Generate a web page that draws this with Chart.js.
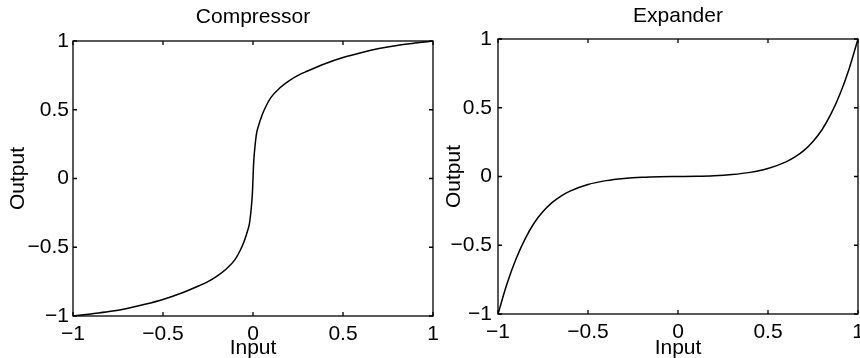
<!DOCTYPE html>
<html>
<head>
<meta charset="utf-8">
<script src="https://cdn.jsdelivr.net/npm/chart.js@4/dist/chart.umd.min.js"></script>
<style>
  html, body { margin: 0; padding: 0; background: #fff; overflow: hidden; }
  body { width: 860px; height: 358px; position: relative; }
  .box { position: absolute; top: 0; height: 364px; }
  #left { left: 0; width: 445px; }
  #right { left: 420px; width: 450px; }
</style>
</head>
<body>
<div class="box" id="left"><canvas id="comp"></canvas></div>
<div class="box" id="right"><canvas id="exp"></canvas></div>
<script>
// values
const compX = [-1, -0.9, -0.8, -0.7, -0.6, -0.5, -0.4, -0.3, -0.25, -0.2, -0.15, -0.1, -0.07, -0.05, -0.03, -0.02, -0.01, -0.005, -0.002,
  0, 0.002, 0.005, 0.01, 0.02, 0.03, 0.05, 0.07, 0.1, 0.15, 0.2, 0.25, 0.3, 0.4, 0.5, 0.6, 0.7, 0.8, 0.9, 1];
const compY = [-1, -0.985, -0.968, -0.945, -0.915, -0.88, -0.835, -0.78, -0.75, -0.71, -0.66, -0.59, -0.52, -0.46, -0.38, -0.33, -0.22, -0.14, -0.07,
  0, 0.07, 0.14, 0.22, 0.33, 0.38, 0.46, 0.52, 0.59, 0.66, 0.71, 0.75, 0.78, 0.835, 0.88, 0.915, 0.945, 0.968, 0.985, 1];

const expX = [-1, -0.95, -0.9, -0.85, -0.8, -0.75, -0.7, -0.65, -0.6, -0.5, -0.4, -0.3, -0.2, -0.1,
  0, 0.1, 0.2, 0.3, 0.4, 0.5, 0.6, 0.65, 0.7, 0.75, 0.8, 0.85, 0.9, 0.95, 1];
const expY = [-1, -0.78, -0.6, -0.455, -0.34, -0.255, -0.19, -0.142, -0.106, -0.058, -0.03, -0.014, -0.005, -0.001,
  0, 0.001, 0.005, 0.014, 0.03, 0.058, 0.106, 0.142, 0.19, 0.255, 0.34, 0.455, 0.6, 0.78, 1];

const tickValues = [-1, -0.5, 0, 0.5, 1];
const tickLabels = ['\u22121', '\u22120.5', '0', '0.5', '1'];

const FONT = 'Liberation Sans, Arial, Helvetica, sans-serif';

// black frame with inward ticks on all four sides
const framePlugin = {
  id: 'frame',
  afterDraw(chart) {
    const ctx = chart.ctx;
    const a = chart.chartArea;
    const xs = chart.scales.x, ys = chart.scales.y;
    ctx.save();
    ctx.strokeStyle = '#000';
    ctx.lineWidth = 1.3;
    ctx.strokeRect(a.left, a.top, a.right - a.left, a.bottom - a.top);
    ctx.beginPath();
    xs.ticks.forEach(t => {
      const px = xs.getPixelForValue(t.value);
      ctx.moveTo(px, a.bottom); ctx.lineTo(px, a.bottom - 4);
      ctx.moveTo(px, a.top); ctx.lineTo(px, a.top + 4);
    });
    ys.ticks.forEach(t => {
      const py = ys.getPixelForValue(t.value);
      ctx.moveTo(a.left, py); ctx.lineTo(a.left + 4, py);
      ctx.moveTo(a.right, py); ctx.lineTo(a.right - 4, py);
    });
    ctx.stroke();
    ctx.restore();
  }
};

function makeChart(id, title, xs, ys, s) {
  const points = xs.map((x, i) => ({ x: x, y: ys[i] }));
  const label = v => tickLabels[tickValues.indexOf(v)];
  return new Chart(document.getElementById(id), {
    type: 'line',
    data: {
      datasets: [{
        data: points,
        borderColor: '#000',
        borderWidth: 1.5,
        pointRadius: 0,
        cubicInterpolationMode: 'monotone',
        fill: false
      }]
    },
    options: {
      responsive: true,
      maintainAspectRatio: false,
      animation: false,
      devicePixelRatio: 1,
      layout: { padding: { left: 0, right: s.padRight, top: 0, bottom: 0 } },
      plugins: {
        legend: { display: false },
        tooltip: { enabled: false },
        title: {
          display: true,
          text: title,
          fullSize: false,
          color: '#000',
          font: { family: FONT, size: 21, weight: 'normal' },
          padding: { top: s.titleTop, bottom: s.titleBottom }
        }
      },
      scales: {
        x: {
          type: 'linear',
          min: -1, max: 1,
          afterBuildTicks: sc => { sc.ticks = tickValues.map(v => ({ value: v })); },
          afterFit: sc => { sc.height = s.xHeight; },
          grid: { display: false, drawTicks: false },
          border: { display: false },
          ticks: { color: '#000', font: { family: FONT, size: 21 }, padding: 6, maxRotation: 0, callback: label },
          title: { display: true, text: 'Input', color: '#000', font: { family: FONT, size: 21 }, padding: { top: 0, bottom: 3 } }
        },
        y: {
          type: 'linear',
          min: -1, max: 1,
          afterBuildTicks: sc => { sc.ticks = tickValues.map(v => ({ value: v })); },
          afterFit: sc => { sc.width = s.yWidth; },
          grid: { display: false, drawTicks: false },
          border: { display: false },
          ticks: { color: '#000', font: { family: FONT, size: 21 }, padding: s.yPad, callback: label },
          title: { display: true, text: 'Output', color: '#000', font: { family: FONT, size: 21 }, padding: { top: s.yTitle, bottom: 0 } }
        }
      }
    },
    plugins: [framePlugin]
  });
}

makeChart('comp', 'Compressor', compX, compY,
  { padRight: 12, titleTop: 5, titleBottom: 10.8, xHeight: 48, yWidth: 73, yPad: 4, yTitle: 6 });
makeChart('exp', 'Expander', expX, expY,
  { padRight: 12, titleTop: 4, titleBottom: 9.8, xHeight: 50, yWidth: 78, yPad: 6, yTitle: 22 });
</script>
</body>
</html>
